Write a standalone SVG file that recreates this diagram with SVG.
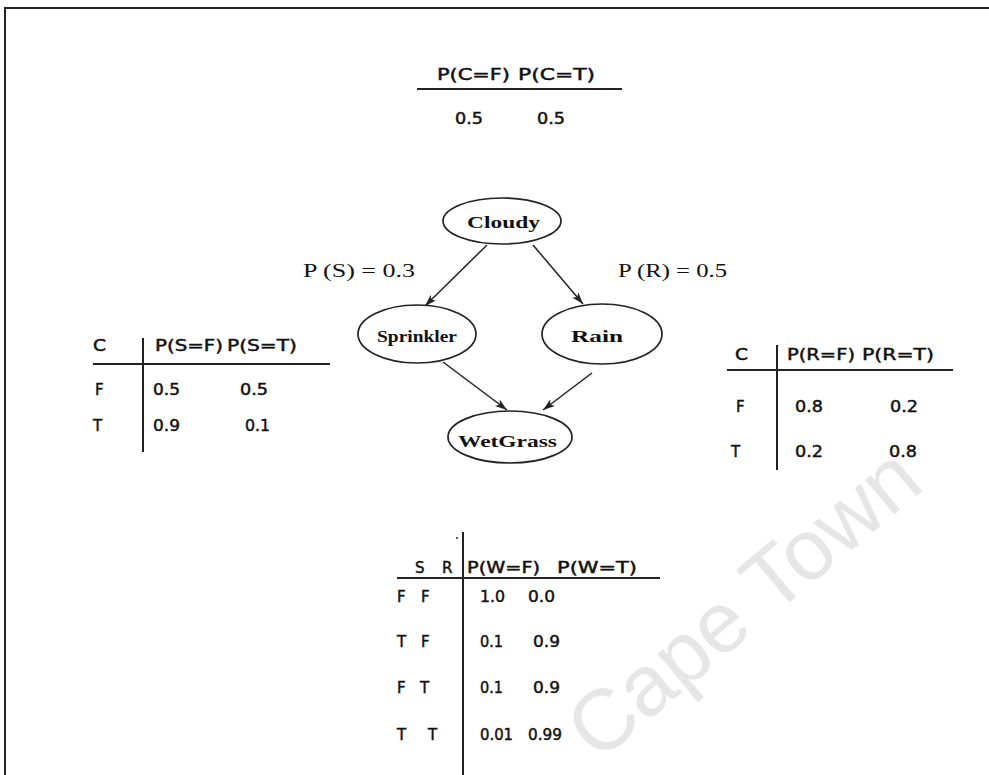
<svg xmlns="http://www.w3.org/2000/svg" width="989" height="775" viewBox="0 0 989 775">
  <style>
    .frame { fill: none; stroke: #222; stroke-width: 2; }
    .rule { stroke: #222; stroke-width: 2; }
    .cell { font-family: "DejaVu Sans", sans-serif; font-size: 15px; fill: #111; stroke: #111; stroke-width: 0.45; }
    .node ellipse { fill: #fff; stroke: #222; stroke-width: 1.7; }
    .node text { font-family: "Liberation Serif", serif; font-size: 17px; font-weight: bold; fill: #111; }
    .lbl { font-family: "Liberation Serif", serif; font-size: 19px; fill: #111; }
    .edge { stroke: #222; stroke-width: 1.5; fill: none; marker-end: url(#head); }
    .wm { font-family: "Liberation Sans", sans-serif; font-size: 86px; fill: #e6e6e6; }
  </style>
  <defs>
    <marker id="head" markerUnits="userSpaceOnUse" markerWidth="14" markerHeight="10" refX="12" refY="4" orient="auto">
      <path d="M0,0 L12,4 L0,8 L3,4 Z" fill="#222"/>
    </marker>
  </defs>

  <rect width="989" height="775" fill="#fff"/>

  <!-- watermark -->
  <text class="wm" transform="translate(598,763) rotate(-40)">Cape Town</text>

  <!-- outer frame (top and left edges) -->
  <path class="frame" d="M5,775 L5,8 L989,8"/>

  <!-- prior of Cloudy -->
  <g id="table-cloudy">
    <text class="cell" x="437" y="80" textLength="73" lengthAdjust="spacingAndGlyphs">P(C=F)</text>
    <text class="cell" x="518" y="80" textLength="77" lengthAdjust="spacingAndGlyphs">P(C=T)</text>
    <line class="rule" x1="417" y1="89" x2="622" y2="89"/>
    <text class="cell" x="455" y="124" textLength="28" lengthAdjust="spacingAndGlyphs">0.5</text>
    <text class="cell" x="537" y="124" textLength="28" lengthAdjust="spacingAndGlyphs">0.5</text>
  </g>

  <!-- CPT of Sprinkler -->
  <g id="table-sprinkler">
    <text class="cell" x="93" y="351" textLength="13" lengthAdjust="spacingAndGlyphs">C</text>
    <text class="cell" x="155" y="351" textLength="68" lengthAdjust="spacingAndGlyphs">P(S=F)</text>
    <text class="cell" x="227" y="351" textLength="70" lengthAdjust="spacingAndGlyphs">P(S=T)</text>
    <line class="rule" x1="93" y1="364" x2="330" y2="364"/>
    <line class="rule" x1="143" y1="338" x2="143" y2="452"/>
    <text class="cell" x="95" y="395">F</text>
    <text class="cell" x="153" y="395" textLength="27" lengthAdjust="spacingAndGlyphs">0.5</text>
    <text class="cell" x="240" y="395" textLength="28" lengthAdjust="spacingAndGlyphs">0.5</text>
    <text class="cell" x="93" y="431">T</text>
    <text class="cell" x="153" y="431" textLength="27" lengthAdjust="spacingAndGlyphs">0.9</text>
    <text class="cell" x="245" y="431" textLength="25" lengthAdjust="spacingAndGlyphs">0.1</text>
  </g>

  <!-- CPT of Rain -->
  <g id="table-rain">
    <text class="cell" x="735" y="360" textLength="13" lengthAdjust="spacingAndGlyphs">C</text>
    <text class="cell" x="787" y="360" textLength="68" lengthAdjust="spacingAndGlyphs">P(R=F)</text>
    <text class="cell" x="862" y="360" textLength="72" lengthAdjust="spacingAndGlyphs">P(R=T)</text>
    <line class="rule" x1="727" y1="370" x2="953" y2="370"/>
    <line class="rule" x1="777" y1="345" x2="777" y2="470"/>
    <text class="cell" x="736" y="412">F</text>
    <text class="cell" x="795" y="412" textLength="28" lengthAdjust="spacingAndGlyphs">0.8</text>
    <text class="cell" x="890" y="412" textLength="28" lengthAdjust="spacingAndGlyphs">0.2</text>
    <text class="cell" x="731" y="457">T</text>
    <text class="cell" x="795" y="457" textLength="28" lengthAdjust="spacingAndGlyphs">0.2</text>
    <text class="cell" x="889" y="457" textLength="28" lengthAdjust="spacingAndGlyphs">0.8</text>
  </g>

  <!-- CPT of WetGrass -->
  <g id="table-wetgrass">
    <text class="cell" x="415" y="573">S</text>
    <text class="cell" x="442" y="573">R</text>
    <text class="cell" x="467" y="573" textLength="73" lengthAdjust="spacingAndGlyphs">P(W=F)</text>
    <text class="cell" x="557" y="573" textLength="80" lengthAdjust="spacingAndGlyphs">P(W=T)</text>
    <line class="rule" x1="397" y1="578" x2="660" y2="578"/>
    <line class="rule" x1="463" y1="532" x2="463" y2="775"/>
    <circle cx="457" cy="538" r="1" fill="#222"/>
    <text class="cell" x="397" y="602">F</text>
    <text class="cell" x="421" y="602">F</text>
    <text class="cell" x="480" y="602" textLength="25" lengthAdjust="spacingAndGlyphs">1.0</text>
    <text class="cell" x="528" y="602" textLength="27" lengthAdjust="spacingAndGlyphs">0.0</text>
    <text class="cell" x="397" y="647">T</text>
    <text class="cell" x="421" y="647">F</text>
    <text class="cell" x="480" y="647" textLength="23" lengthAdjust="spacingAndGlyphs">0.1</text>
    <text class="cell" x="533" y="647" textLength="27" lengthAdjust="spacingAndGlyphs">0.9</text>
    <text class="cell" x="397" y="693">F</text>
    <text class="cell" x="420" y="693">T</text>
    <text class="cell" x="480" y="693" textLength="23" lengthAdjust="spacingAndGlyphs">0.1</text>
    <text class="cell" x="533" y="693" textLength="27" lengthAdjust="spacingAndGlyphs">0.9</text>
    <text class="cell" x="397" y="740">T</text>
    <text class="cell" x="428" y="740">T</text>
    <text class="cell" x="480" y="740" textLength="33" lengthAdjust="spacingAndGlyphs">0.01</text>
    <text class="cell" x="528" y="740" textLength="34" lengthAdjust="spacingAndGlyphs">0.99</text>
  </g>

  <!-- connectors -->
  <g id="edges">
    <line class="edge" x1="487" y1="245" x2="425" y2="306"/>
    <line class="edge" x1="533" y1="245" x2="583" y2="304"/>
    <line class="edge" x1="443" y1="362" x2="507" y2="410"/>
    <line class="edge" x1="592" y1="373" x2="543" y2="410"/>
    <text class="lbl" x="303" y="277" textLength="112" lengthAdjust="spacingAndGlyphs">P (S) = 0.3</text>
    <text class="lbl" x="618" y="277" textLength="109" lengthAdjust="spacingAndGlyphs">P (R) = 0.5</text>
  </g>

  <!-- nodes -->
  <g id="cloudy" class="node">
    <ellipse cx="502" cy="221" rx="59" ry="23"/>
    <text x="467" y="228" textLength="73" lengthAdjust="spacingAndGlyphs">Cloudy</text>
  </g>
  <g id="sprinkler" class="node">
    <ellipse cx="417" cy="334" rx="59" ry="29"/>
    <text x="377" y="342" textLength="80" lengthAdjust="spacingAndGlyphs">Sprinkler</text>
  </g>
  <g id="rain" class="node">
    <ellipse cx="602" cy="334" rx="60" ry="30"/>
    <text x="571" y="342" textLength="52" lengthAdjust="spacingAndGlyphs">Rain</text>
  </g>
  <g id="wetgrass" class="node">
    <ellipse cx="510" cy="437" rx="62" ry="26"/>
    <text x="458" y="447" textLength="99" lengthAdjust="spacingAndGlyphs">WetGrass</text>
  </g>
</svg>
